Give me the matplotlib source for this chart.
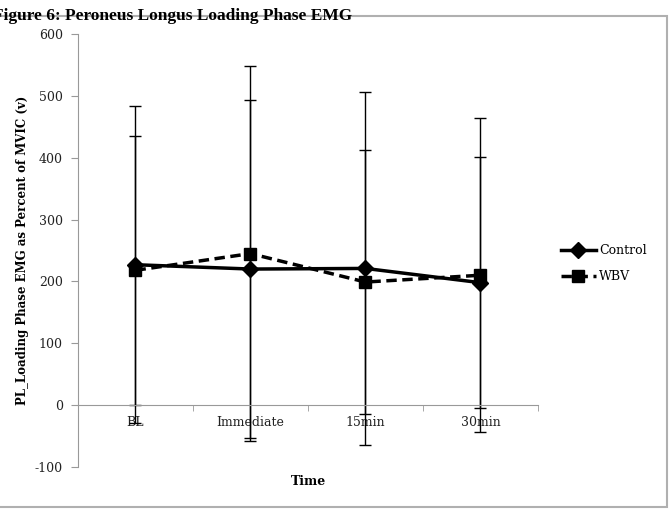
import numpy as np
import matplotlib
matplotlib.use('Agg')
import matplotlib.pyplot as plt
from matplotlib.patches import Rectangle

# данные
times = ['BL', 'Immediate', '15min', '30min']
control = [227, 220, 221, 198]
control_sd = [256, 273, 285, 203]
wbv = [218, 245, 199, 210]
wbv_sd = [217, 303, 214, 254]

plt.rcParams['font.family'] = 'DejaVu Serif'
plt.rcParams['font.size'] = 9
plt.rcParams['axes.unicode_minus'] = False

fig = plt.figure(figsize=(6.69, 5.11), dpi=100)
ax = fig.add_axes([0.1166, 0.0861, 0.6874, 0.8474])

x = np.arange(len(times))

# усы ошибок
ax.errorbar(x, control, yerr=control_sd, fmt='none', ecolor='black',
            elinewidth=1, capsize=4, capthick=1, zorder=2)
ax.errorbar(x, wbv, yerr=wbv_sd, fmt='none', ecolor='black',
            elinewidth=1, capsize=4, capthick=1, zorder=2)

# линии с маркерами
ax.plot(x, control, color='black', lw=2.5, marker='D', markersize=8,
        label='Control', zorder=4)
ax.plot(x, wbv, color='black', lw=2.5, ls=(0, (3, 1.6)), marker='s',
        markersize=9, label='WBV', zorder=3)

ax.set_xlim(-0.5, len(times) - 0.5)
ax.set_ylim(-100, 600)
ax.set_yticks(np.arange(-100, 601, 100))

ax.set_xticks(x)
ax.set_xticklabels(times)
ax.set_xticks(np.arange(-0.5, len(times), 1), minor=True)
ax.tick_params(axis='x', which='major', length=0, pad=8, labelcolor='#222222')
ax.tick_params(axis='x', which='minor', length=4, color='#999999', direction='out')
ax.tick_params(axis='y', length=5, color='#999999', direction='out', pad=6,
               labelcolor='#222222')

ax.spines['top'].set_visible(False)
ax.spines['right'].set_visible(False)
ax.spines['left'].set_color('#999999')
ax.spines['bottom'].set_color('#999999')
ax.spines['bottom'].set_position(('data', 0))

ax.set_ylabel('PL_Loading Phase EMG as Percent of MVIC (v)', fontsize=8.5,
              fontweight='bold', labelpad=4)
fig.text(0.4604, 0.057, 'Time', fontweight='bold', ha='center', va='center')

leg = ax.legend(loc='center left', bbox_to_anchor=(1.025, 0.47), frameon=False,
                handlelength=2.8, handletextpad=0.3, labelspacing=1.05)

# заголовок (обрезан слева, как в оригинале)
fig.text(-0.010, 0.985, 'Figure 6: Peroneus Longus Loading Phase EMG',
         family='Liberation Serif', fontsize=12.5, fontweight='bold', va='top')

# серая рамка области диаграммы
fig.patches.append(Rectangle((-0.01, 0.008), 1.007, 0.96, transform=fig.transFigure,
                             fill=False, edgecolor='#b0b0b0', lw=1.5))

fig.savefig('out.png', dpi=100)
